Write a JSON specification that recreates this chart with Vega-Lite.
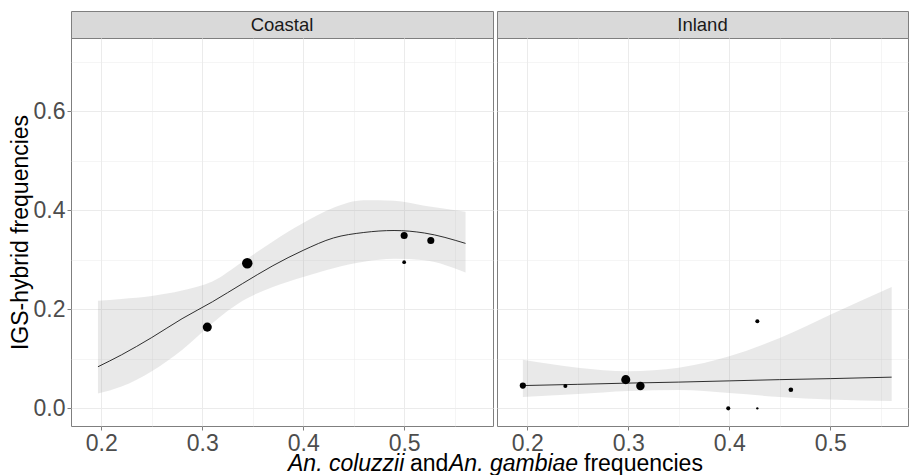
{
  "$schema": "https://vega.github.io/schema/vega-lite/v6.json",
  "padding": {"left": 8, "top": 10, "right": 0, "bottom": 0},
  "background": "white",
  "datasets": {
    "pts": [
      {"region": "Coastal", "x": 0.305, "y": 0.164, "n": 60},
      {"region": "Coastal", "x": 0.3446, "y": 0.293, "n": 80},
      {"region": "Coastal", "x": 0.5, "y": 0.349, "n": 36},
      {"region": "Coastal", "x": 0.5, "y": 0.295, "n": 10},
      {"region": "Coastal", "x": 0.5264, "y": 0.339, "n": 36},
      {"region": "Inland", "x": 0.1956, "y": 0.046, "n": 28},
      {"region": "Inland", "x": 0.2377, "y": 0.045, "n": 12},
      {"region": "Inland", "x": 0.2975, "y": 0.058, "n": 60},
      {"region": "Inland", "x": 0.312, "y": 0.045, "n": 52},
      {"region": "Inland", "x": 0.399, "y": 0.0, "n": 12},
      {"region": "Inland", "x": 0.4278, "y": 0.176, "n": 12},
      {"region": "Inland", "x": 0.4278, "y": 0.0, "n": 4},
      {"region": "Inland", "x": 0.461, "y": 0.0376, "n": 16}
    ],
    "fit": [
      {"region": "Coastal", "x": 0.1967, "fit": 0.084, "lo": 0.030, "hi": 0.217},
      {"region": "Coastal", "x": 0.22, "fit": 0.108, "lo": 0.044, "hi": 0.221},
      {"region": "Coastal", "x": 0.25, "fit": 0.143, "lo": 0.075, "hi": 0.227},
      {"region": "Coastal", "x": 0.28, "fit": 0.181, "lo": 0.118, "hi": 0.238},
      {"region": "Coastal", "x": 0.31, "fit": 0.215, "lo": 0.172, "hi": 0.256},
      {"region": "Coastal", "x": 0.34, "fit": 0.252, "lo": 0.217, "hi": 0.296},
      {"region": "Coastal", "x": 0.37, "fit": 0.288, "lo": 0.245, "hi": 0.337},
      {"region": "Coastal", "x": 0.40, "fit": 0.319, "lo": 0.265, "hi": 0.374},
      {"region": "Coastal", "x": 0.43, "fit": 0.344, "lo": 0.283, "hi": 0.405},
      {"region": "Coastal", "x": 0.46, "fit": 0.355, "lo": 0.296, "hi": 0.420},
      {"region": "Coastal", "x": 0.49, "fit": 0.359, "lo": 0.302, "hi": 0.419},
      {"region": "Coastal", "x": 0.52, "fit": 0.354, "lo": 0.299, "hi": 0.409},
      {"region": "Coastal", "x": 0.5608, "fit": 0.333, "lo": 0.274, "hi": 0.397},
      {"region": "Inland", "x": 0.1956, "fit": 0.046, "lo": 0.023, "hi": 0.098},
      {"region": "Inland", "x": 0.25, "fit": 0.0485, "lo": 0.029, "hi": 0.082},
      {"region": "Inland", "x": 0.30, "fit": 0.051, "lo": 0.035, "hi": 0.075},
      {"region": "Inland", "x": 0.35, "fit": 0.053, "lo": 0.037, "hi": 0.082},
      {"region": "Inland", "x": 0.40, "fit": 0.0555, "lo": 0.031, "hi": 0.105},
      {"region": "Inland", "x": 0.45, "fit": 0.058, "lo": 0.023, "hi": 0.142},
      {"region": "Inland", "x": 0.50, "fit": 0.060, "lo": 0.018, "hi": 0.189},
      {"region": "Inland", "x": 0.5608, "fit": 0.063, "lo": 0.015, "hi": 0.245}
    ]
  },
  "vconcat": [
    {
      "columns": 2,
      "spacing": {"row": 0, "column": 4},
      "bounds": "flush",
      "align": "each",
      "concat": [
        {
          "width": 422, "height": 27,
          "view": {"fill": "#D9D9D9", "stroke": "#7F7F7F"},
          "data": {"values": [{"region": "Coastal"}]},
          "mark": {"type": "text", "fontSize": 18.5, "color": "#1A1A1A", "baseline": "middle", "font": "Liberation Sans"},
          "encoding": {"text": {"field": "region"}}
        },
        {
          "width": 411, "height": 27,
          "view": {"fill": "#D9D9D9", "stroke": "#7F7F7F"},
          "data": {"values": [{"region": "Inland"}]},
          "mark": {"type": "text", "fontSize": 18.5, "color": "#1A1A1A", "baseline": "middle", "font": "Liberation Sans"},
          "encoding": {"text": {"field": "region"}}
        },
        {
          "width": 422, "height": 388,
          "layer": [
            {
              "data": {"name": "fit"},
              "transform": [{"filter": "datum.region === 'Coastal'"}],
              "mark": {"type": "area", "color": "#999999", "opacity": 0.22, "interpolate": "monotone"},
              "encoding": {
                "x": {"field": "x", "type": "quantitative", "scale": {"domain": [0.170, 0.588], "nice": false, "zero": false},
                      "axis": {"values": [0.2, 0.3, 0.4, 0.5], "format": ".1f", "title": null, "grid": true}},
                "y": {"field": "lo", "type": "quantitative", "scale": {"domain": [-0.0356, 0.7476], "nice": false, "zero": false},
                      "axis": {"values": [0, 0.2, 0.4, 0.6], "format": ".1f", "title": "IGS-hybrid frequencies", "grid": true, "titlePadding": 1}},
                "y2": {"field": "hi"}
              }
            },
            {
              "data": {"name": "fit"},
              "transform": [{"filter": "datum.region === 'Coastal'"}],
              "mark": {"type": "line", "color": "#1A1A1A", "strokeWidth": 0.9, "interpolate": "monotone"},
              "encoding": {
                "x": {"field": "x", "type": "quantitative",
                      "axis": {"values": [0.25, 0.35, 0.45, 0.55], "grid": true, "gridWidth": 0.5, "labels": false, "ticks": false, "domain": false, "title": null, "orient": "top"}},
                "y": {"field": "fit", "type": "quantitative",
                      "axis": {"values": [0.1, 0.3, 0.5, 0.7], "grid": true, "gridWidth": 0.5, "labels": false, "ticks": false, "domain": false, "title": null, "orient": "right"}}
              }
            },
            {
              "data": {"name": "pts"},
              "transform": [{"filter": "datum.region === 'Coastal'"}],
              "mark": {"type": "circle", "color": "black", "opacity": 1},
              "encoding": {
                "x": {"field": "x", "type": "quantitative", "axis": null},
                "y": {"field": "y", "type": "quantitative", "axis": null},
                "size": {"field": "n", "type": "quantitative", "scale": {"type": "linear", "domain": [0, 80], "range": [0, 110]}, "legend": null}
              }
            }
          ],
          "resolve": {"axis": {"x": "independent", "y": "independent"}}
        },
        {
          "width": 411, "height": 388,
          "layer": [
            {
              "data": {"name": "fit"},
              "transform": [{"filter": "datum.region === 'Inland'"}],
              "mark": {"type": "area", "color": "#999999", "opacity": 0.22, "interpolate": "monotone"},
              "encoding": {
                "x": {"field": "x", "type": "quantitative", "scale": {"domain": [0.170, 0.577], "nice": false, "zero": false},
                      "axis": {"values": [0.2, 0.3, 0.4, 0.5], "format": ".1f", "title": null, "grid": true}},
                "y": {"field": "lo", "type": "quantitative", "scale": {"domain": [-0.0356, 0.7476], "nice": false, "zero": false},
                      "axis": {"values": [0, 0.2, 0.4, 0.6], "labels": false, "ticks": false, "title": null, "grid": true}},
                "y2": {"field": "hi"}
              }
            },
            {
              "data": {"name": "fit"},
              "transform": [{"filter": "datum.region === 'Inland'"}],
              "mark": {"type": "line", "color": "#1A1A1A", "strokeWidth": 0.9, "interpolate": "monotone"},
              "encoding": {
                "x": {"field": "x", "type": "quantitative",
                      "axis": {"values": [0.25, 0.35, 0.45, 0.55], "grid": true, "gridWidth": 0.5, "labels": false, "ticks": false, "domain": false, "title": null, "orient": "top"}},
                "y": {"field": "fit", "type": "quantitative",
                      "axis": {"values": [0.1, 0.3, 0.5, 0.7], "grid": true, "gridWidth": 0.5, "labels": false, "ticks": false, "domain": false, "title": null, "orient": "right"}}
              }
            },
            {
              "data": {"name": "pts"},
              "transform": [{"filter": "datum.region === 'Inland'"}],
              "mark": {"type": "circle", "color": "black", "opacity": 1},
              "encoding": {
                "x": {"field": "x", "type": "quantitative", "axis": null},
                "y": {"field": "y", "type": "quantitative", "axis": null},
                "size": {"field": "n", "type": "quantitative", "scale": {"type": "linear", "domain": [0, 80], "range": [0, 110]}, "legend": null}
              }
            }
          ],
          "resolve": {"axis": {"x": "independent", "y": "independent"}}
        }
      ]
    },
    {
      "width": 837, "height": 5,
      "view": {"stroke": null},
      "layer": [
        {"data": {"values": [{"t": "An. coluzzii"}]},
         "mark": {"type": "text", "align": "left", "baseline": "alphabetic", "fontSize": 23, "fontStyle": "italic", "color": "black", "font": "Liberation Sans", "dx": -201.5},
         "encoding": {"text": {"field": "t"}}},
        {"data": {"values": [{"t": "and"}]},
         "mark": {"type": "text", "align": "left", "baseline": "alphabetic", "fontSize": 23, "color": "black", "font": "Liberation Sans", "dx": -79.5},
         "encoding": {"text": {"field": "t"}}},
        {"data": {"values": [{"t": "An. gambiae"}]},
         "mark": {"type": "text", "align": "left", "baseline": "alphabetic", "fontSize": 23, "fontStyle": "italic", "color": "black", "font": "Liberation Sans", "dx": -40.5},
         "encoding": {"text": {"field": "t"}}},
        {"data": {"values": [{"t": "frequencies"}]},
         "mark": {"type": "text", "align": "left", "baseline": "alphabetic", "fontSize": 23, "color": "black", "font": "Liberation Sans", "dx": 94.5},
         "encoding": {"text": {"field": "t"}}}
      ]
    }
  ],
  "spacing": -4,
  "bounds": "full",
  "config": {
    "font": "Liberation Sans",
    "view": {"stroke": "#7F7F7F", "strokeWidth": 1},
    "axis": {
      "domain": false,
      "gridColor": "#EBEBEB",
      "gridWidth": 1,
      "tickColor": "#7F7F7F",
      "tickSize": 4,
      "labelFont": "Liberation Sans",
      "labelFontSize": 23,
      "labelColor": "#4D4D4D",
      "labelPadding": 2,
      "titleFont": "Liberation Sans",
      "titleFontSize": 23,
      "titleFontWeight": "normal",
      "titleColor": "black"
    }
  }
}
